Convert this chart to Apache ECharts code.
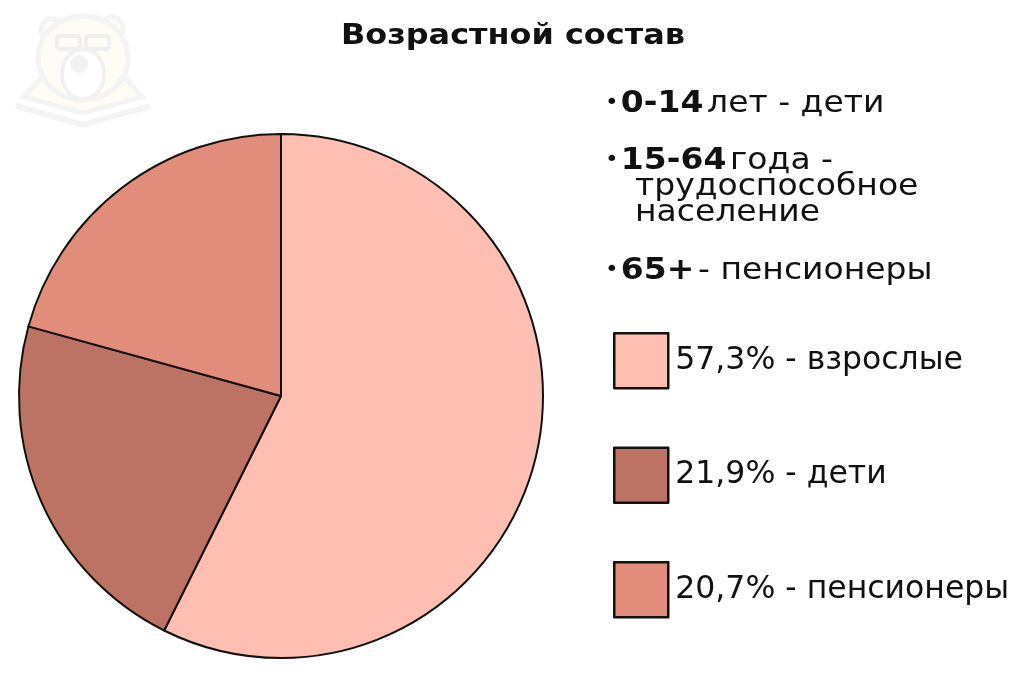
<!DOCTYPE html>
<html>
<head>
<meta charset="utf-8">
<script src="https://cdn.jsdelivr.net/npm/echarts@6/dist/echarts.min.js"></script>
<style>
html,body{margin:0;padding:0;background:#fff;}
#c{width:1024px;height:676px;}
</style>
</head>
<body>
<div id="c"></div>
<script>
var titleText = 'Возрастной состав';
var categories = ['взрослые', 'дети', 'пенсионеры'];
var values = [57.3, 21.9, 20.7];
var valueLabels = ['57,3%', '21,9%', '20,7%'];
var colors = ['#FEBEB1', '#BD7364', '#E28D7C'];

var FONT = '"DejaVu Sans", Inter, sans-serif';
var chart = echarts.init(document.getElementById('c'));

var data = categories.map(function (c, i) {
  return { name: c, value: values[i], itemStyle: { color: colors[i] } };
});

// faint bear watermark
var WS = '#F4F4F4', WF = '#FFFCF5';
var bear = [
  { type: 'polyline', shape: { points: [[16,106],[83,125],[150,106]] }, style: { fill: 'none', stroke: WS, lineWidth: 6 }, z: 0 },
  { type: 'polygon', shape: { points: [[24,97],[46,72],[120,72],[142,97],[83,113]] },
    style: { fill: WF, stroke: WS, lineWidth: 5 }, z: 0 },
  { type: 'circle', shape: { cx: 52, cy: 30, r: 11 }, style: { fill: WF, stroke: WS, lineWidth: 5 }, z: 0 },
  { type: 'circle', shape: { cx: 112, cy: 28, r: 11 }, style: { fill: WF, stroke: WS, lineWidth: 5 }, z: 0 },
  { type: 'ellipse', shape: { cx: 83, cy: 58, rx: 45, ry: 42 }, style: { fill: WF, stroke: WS, lineWidth: 5 }, z: 0 },
  { type: 'rect', shape: { x: 57, y: 36, width: 23, height: 13, r: 3 }, style: { fill: 'none', stroke: '#EFEFEF', lineWidth: 4 }, z: 1 },
  { type: 'rect', shape: { x: 86, y: 36, width: 23, height: 13, r: 3 }, style: { fill: 'none', stroke: '#EFEFEF', lineWidth: 4 }, z: 1 },
  { type: 'ellipse', shape: { cx: 83, cy: 74, rx: 21, ry: 25 }, style: { fill: '#FFFFFF', stroke: '#F1F1F1', lineWidth: 4 }, z: 1 },
  { type: 'circle', shape: { cx: 79, cy: 64, r: 9 }, style: { fill: '#F1F1F1' }, z: 2 }
];

var rich = {
  d: { fontFamily: FONT, fontSize: 21, fill: '#111', padding: [0, 2, 0, 0] },
  b: { fontFamily: FONT, fontSize: 30, fontWeight: 'bold', fill: '#111' },
  n: { fontFamily: FONT, fontSize: 30, fill: '#111' }
};
function line(x, y, text, plain) {
  var st = { x: 0, y: 0, text: text, verticalAlign: 'middle', align: 'left' };
  if (plain) { st.fontFamily = FONT; st.fontSize = 30; st.fill = '#111'; }
  else { st.rich = rich; }
  return { type: 'text', x: x, y: y, scaleX: 1.1, style: st };
}
var bullets = [
  line(605, 104, '{d|•}{b|0-14} {n|лет - дети}'),
  line(605, 161, '{d|•}{b|15-64} {n|года -}'),
  line(635, 187.5, 'трудоспособное', true),
  line(635, 213.5, 'население', true),
  line(605, 271, '{d|•}{b|65+} {n|- пенсионеры}')
];
var titleEl = {
  type: 'text', x: 341, y: 36, scaleX: 1.1,
  style: { x: 0, y: 0, text: titleText, verticalAlign: 'middle', align: 'left',
    fontFamily: FONT, fontSize: 29, fontWeight: 'bold', fill: '#111' }
};

chart.setOption({
  backgroundColor: '#ffffff',
  animation: false,
  legend: {
    orient: 'vertical',
    left: 613, top: 332,
    padding: 0,
    itemWidth: 54, itemHeight: 55,
    itemGap: 57,
    icon: 'rect',
    selectedMode: false,
    itemStyle: { borderColor: '#111', borderWidth: 2.5 },
    formatter: function (name) {
      return valueLabels[categories.indexOf(name)] + ' - ' + name;
    },
    textStyle: { fontFamily: FONT, fontSize: 31.5, color: '#111', padding: [4, 0, 0, 2] },
    data: categories
  },
  graphic: bear.concat([titleEl]).concat(bullets),
  series: [{
    type: 'pie',
    center: [281, 396],
    radius: 262,
    startAngle: 90,
    clockwise: true,
    label: { show: false },
    labelLine: { show: false },
    itemStyle: { borderColor: '#111', borderWidth: 2 },
    emphasis: { disabled: true },
    data: data
  }]
});
</script>
</body>
</html>
